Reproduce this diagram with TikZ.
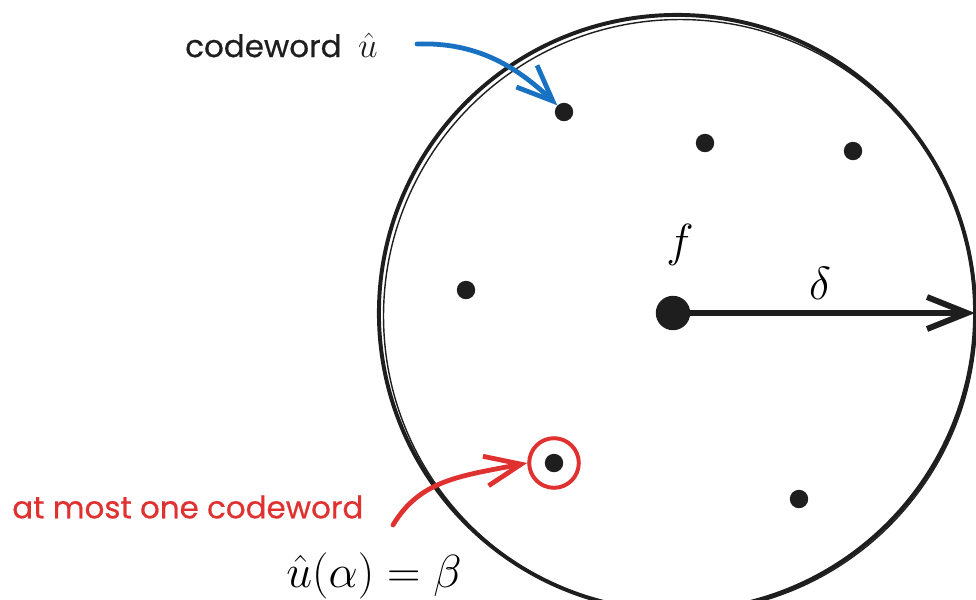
\RequirePackage{fix-cm}
\documentclass[tikz,border=0pt]{standalone}
\usepackage{amsmath}
\usepackage{fontspec}
\newfontfamily\manofont{Poppins}[FakeBold=0.6]
\usepackage{xcolor}
\usepackage{tikz}
\usetikzlibrary{positioning, arrows.meta}
\definecolor{tinta}{HTML}{1E1E1E}
\definecolor{azul}{HTML}{1971C2}
\definecolor{rojo}{HTML}{E03131}

\begin{document}
\begin{tikzpicture}[x=0.025cm, y=-0.025cm,
  pto/.style={circle, fill=tinta, inner sep=0pt, minimum size=4.6mm},
  fl/.style={-{Straight Barb[length=10mm, width=8mm]}, tinta, line width=4.2pt},
  flc/.style={-{Straight Barb[length=9mm, width=7.5mm]}, line width=3.4pt, line cap=round},
  et/.style={font=\manofont\fontsize{22}{26}\selectfont, inner sep=0pt},
  mat/.style={font=\fontsize{33}{38}\selectfont, inner sep=0pt}]
\useasboundingbox (0,0) rectangle (976,600);
% disco de radio delta
\draw[tinta, line width=2.8pt] (677,313) circle (7.45cm);
\draw[tinta, line width=1pt] (680,316) circle (7.41cm);
% palabras del codigo
\node[pto, minimum size=8.6mm] (f) at (673,313) {};
\node[pto] (u1) at (564,112) {};
\node[pto] (u2) at (705,143) {};
\node[pto] (u3) at (853,151) {};
\node[pto] (u4) at (466,290) {};
\node[pto] (u5) at (554,463) {};
\node[pto] (u6) at (799,499) {};
\node[draw=rojo, circle, line width=2.8pt, inner sep=0pt, minimum size=12.4mm] (anillo) at (u5) {};
% radio
\coordinate (borde) at (975,313);
\draw[fl] (f) -- (borde);
\node[mat] (lf) at (680,245) {$f$};
\node[mat] (ld) at (820,283) {$\delta$};
% etiquetas
\node[et, tinta, anchor=west] (cw) at (185,45) {codeword\ \ {\fontsize{25}{28}\selectfont$\hat{u}$}};
\coordinate (b0) at (417,44);
\draw[flc, azul] (b0) .. controls (475,42) and (515,65) .. (u1.north west);
\node[et, rojo, anchor=west] (am) at (12,507) {at most one codeword};
\coordinate (r0) at (393,525);
\draw[flc, rojo] (r0) .. controls (420,480) and (460,476) .. (anillo.west);
\node[mat] (eq) at (374,576) {$\hat{u}(\alpha)=\beta$};
\end{tikzpicture}
\end{document}
